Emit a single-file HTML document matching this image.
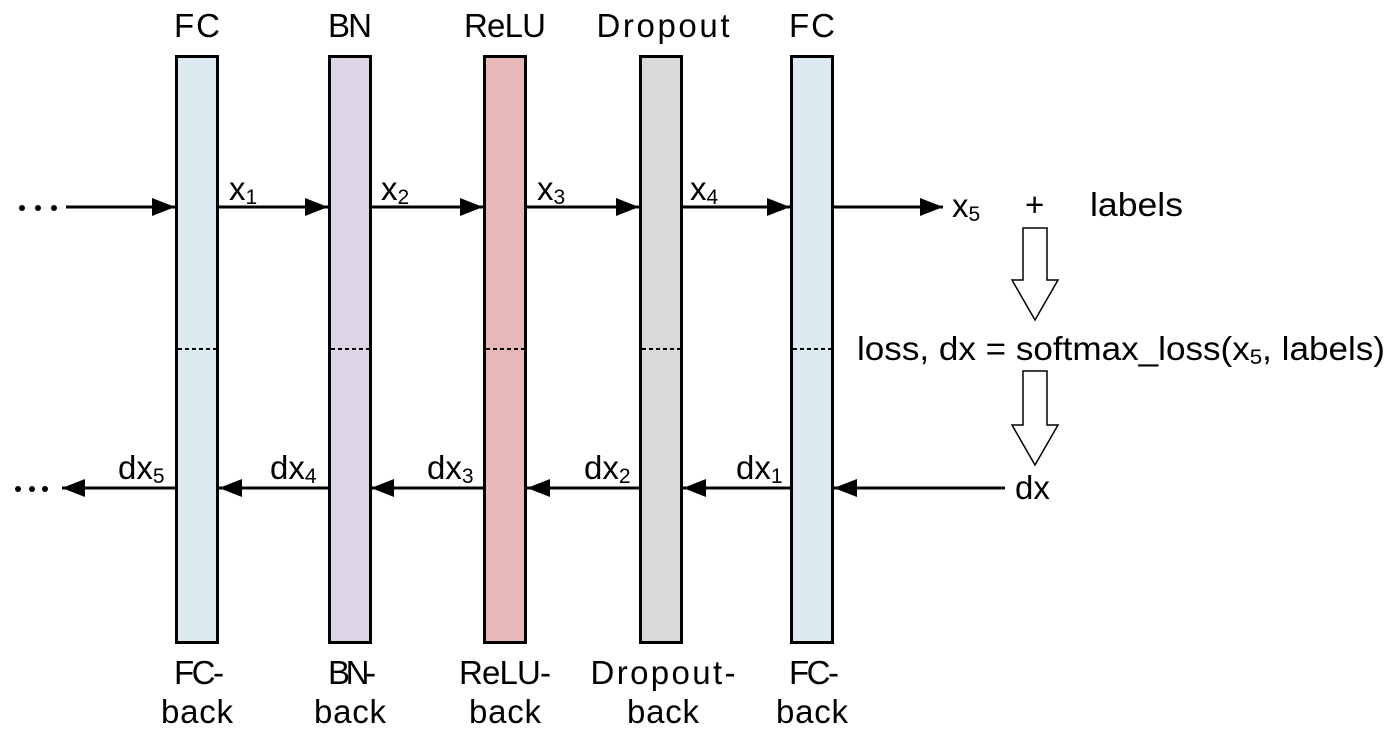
<!DOCTYPE html>
<html><head><meta charset="utf-8"><style>body{margin:0;background:#fff}svg{display:block}text{font-family:"Liberation Sans",sans-serif;fill:#000}</style></head><body>
<svg width="1395" height="739" viewBox="0 0 1395 739" xmlns="http://www.w3.org/2000/svg">
<defs>
<marker id="a" markerWidth="24" markerHeight="18" refX="23" refY="9" orient="auto" markerUnits="userSpaceOnUse"><path d="M0,0 L23,9 L0,18 z" fill="#000"/></marker>
</defs>
<g stroke="#000" stroke-width="3">
<rect x="176.5" y="56.5" width="41" height="586" fill="#dbebf1"/>
<rect x="329.5" y="56.5" width="41" height="586" fill="#dcd5e6"/>
<rect x="484.5" y="56.5" width="41" height="586" fill="#e6b9b8"/>
<rect x="640.5" y="56.5" width="41" height="586" fill="#d9d9d9"/>
<rect x="791.5" y="56.5" width="41" height="586" fill="#dbebf1"/>
</g>
<g stroke="#000" stroke-width="2" stroke-dasharray="4,3">
<line x1="178" y1="349" x2="216" y2="349"/><line x1="331" y1="349" x2="369" y2="349"/><line x1="486" y1="349" x2="524" y2="349"/><line x1="642" y1="349" x2="680" y2="349"/><line x1="793" y1="349" x2="831" y2="349"/>
</g>
<g stroke="#000" stroke-width="3" marker-end="url(#a)">
<line x1="66" y1="207" x2="175" y2="207"/><line x1="219" y1="207" x2="328" y2="207"/><line x1="371" y1="207" x2="483" y2="207"/><line x1="527" y1="207" x2="639" y2="207"/><line x1="683" y1="207" x2="790" y2="207"/><line x1="834" y1="207" x2="943" y2="207"/>
<line x1="1005" y1="488" x2="834" y2="488"/><line x1="790" y1="488" x2="683" y2="488"/><line x1="639" y1="488" x2="527" y2="488"/><line x1="483" y1="488" x2="371" y2="488"/><line x1="328" y1="488" x2="219" y2="488"/><line x1="175" y1="488" x2="62" y2="488"/>
</g>
<g fill="#000">
<circle cx="22" cy="208" r="3"/><circle cx="38" cy="208" r="3"/><circle cx="54" cy="208" r="3"/>
<circle cx="18" cy="489" r="3"/><circle cx="32" cy="489" r="3"/><circle cx="45" cy="489" r="3"/>
</g>
<g fill="#fff" stroke="#000" stroke-width="1.5">
<path d="M1023,228 L1047,228 L1047,280 L1058,280 L1035,320 L1012,280 L1023,280 z"/>
<path d="M1023,371 L1047,371 L1047,425 L1058,425 L1035,465 L1012,425 L1023,425 z"/>
</g>
<g font-size="33" text-anchor="middle" lengthAdjust="spacingAndGlyphs">
<text x="197" y="37" textLength="46">FC</text><text x="350" y="37" textLength="44">BN</text><text x="505" y="37" textLength="82">ReLU</text><text x="663" y="37" textLength="133">Dropout</text><text x="812" y="37" textLength="46">FC</text>
<text x="199" y="684" textLength="50">FC-</text><text x="197" y="723" textLength="72">back</text>
<text x="352" y="684" textLength="48">BN-</text><text x="350" y="723" textLength="72">back</text>
<text x="505" y="684" textLength="92">ReLU-</text><text x="505" y="723" textLength="72">back</text>
<text x="663" y="684" textLength="145">Dropout-</text><text x="663" y="723" textLength="72">back</text>
<text x="814" y="684" textLength="50">FC-</text><text x="812" y="723" textLength="72">back</text>
</g>
<g font-size="33">
<text x="229" y="200">x<tspan font-size="21" dy="4">1</tspan></text>
<text x="381" y="200">x<tspan font-size="21" dy="4">2</tspan></text>
<text x="537" y="200">x<tspan font-size="21" dy="4">3</tspan></text>
<text x="690" y="200">x<tspan font-size="21" dy="4">4</tspan></text>
<text x="952" y="217">x<tspan font-size="21" dy="4">5</tspan></text>
<text x="1025" y="216">+</text>
<text x="1090" y="216" textLength="93" lengthAdjust="spacingAndGlyphs">labels</text>
<text x="118" y="479">dx<tspan font-size="21" dy="4">5</tspan></text>
<text x="270" y="479">dx<tspan font-size="21" dy="4">4</tspan></text>
<text x="427" y="479">dx<tspan font-size="21" dy="4">3</tspan></text>
<text x="584" y="479">dx<tspan font-size="21" dy="4">2</tspan></text>
<text x="736" y="479">dx<tspan font-size="21" dy="4">1</tspan></text>
<text x="1015" y="499">dx</text>
<text x="857" y="360" textLength="528" lengthAdjust="spacingAndGlyphs">loss, dx = softmax_loss(x<tspan font-size="21" dy="4">5</tspan><tspan dy="-4">, labels)</tspan></text>
</g>
</svg>
</body></html>
